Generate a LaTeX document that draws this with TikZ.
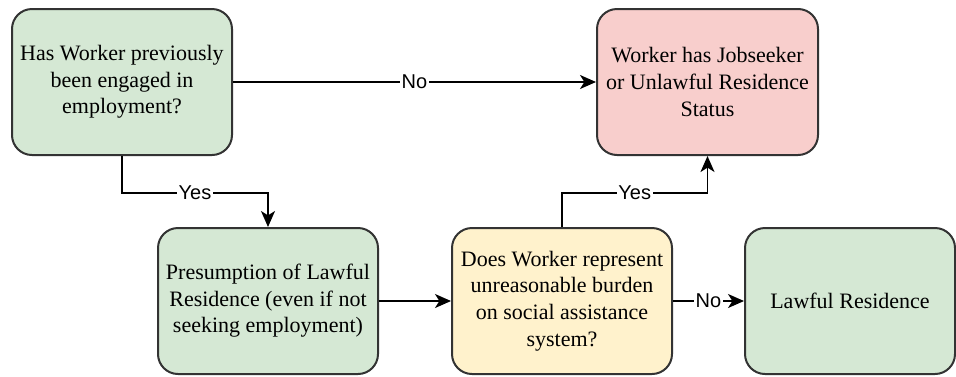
\documentclass[tikz,border=0pt]{standalone}
\usepackage{fontspec}
\setmainfont{Liberation Serif}
\setsansfont{Liberation Sans}
\usetikzlibrary{arrows.meta}
\definecolor{gfill}{HTML}{D5E8D4}
\definecolor{rfill}{HTML}{F8CECC}
\definecolor{yfill}{HTML}{FFF2CC}
\definecolor{bline}{HTML}{333333}
\begin{document}
\begin{tikzpicture}[x=0.5pt,y=-0.5pt,
  box/.style={draw=bline, line width=1pt, rounded corners=10pt, align=center,
    font=\fontsize{11}{13.3}\selectfont, inner sep=0pt, minimum height=73pt, minimum width=110pt},
  edge/.style={draw=black, line width=0.9pt, -{Stealth[length=8pt,width=7pt,inset=2.2pt]}},
  lbl/.style={fill=white, inner sep=0.8pt, font=\sffamily\fontsize{10}{11}\selectfont}]
\useasboundingbox (0,0) rectangle (956,376);
\node[box, fill=gfill] (n1) at (122,82) {Has Worker previously\\been engaged in\\employment?};
\node[box, fill=rfill, minimum width=110.5pt] (n2) at (707.5,82) {Worker has Jobseeker\\or Unlawful Residence\\Status};
\node[box, fill=gfill] (n3) at (268,301) {Presumption of Lawful\\Residence (even if not\\seeking employment)};
\node[box, fill=yfill] (n4) at (562,301) {Does Worker represent\\unreasonable burden\\on social assistance\\system?};
\node[box, fill=gfill, minimum width=105pt] (n5) at (850,301) {Lawful Residence};
\coordinate (ymid) at (0,193);
\draw[edge] (n1) -- node[lbl]{No} (n2);
\draw[edge] (n1.south) -- (n1.south |- ymid) -- node[lbl]{Yes} (n3.north |- ymid) -- (n3.north);
\draw[edge] (n3) -- (n4);
\draw[edge] (n4.north) -- (n4.north |- ymid) -- node[lbl]{Yes} (n2.south |- ymid) -- (n2.south);
\draw[edge] (n4) -- node[lbl]{No} (n5);
\end{tikzpicture}
\end{document}
